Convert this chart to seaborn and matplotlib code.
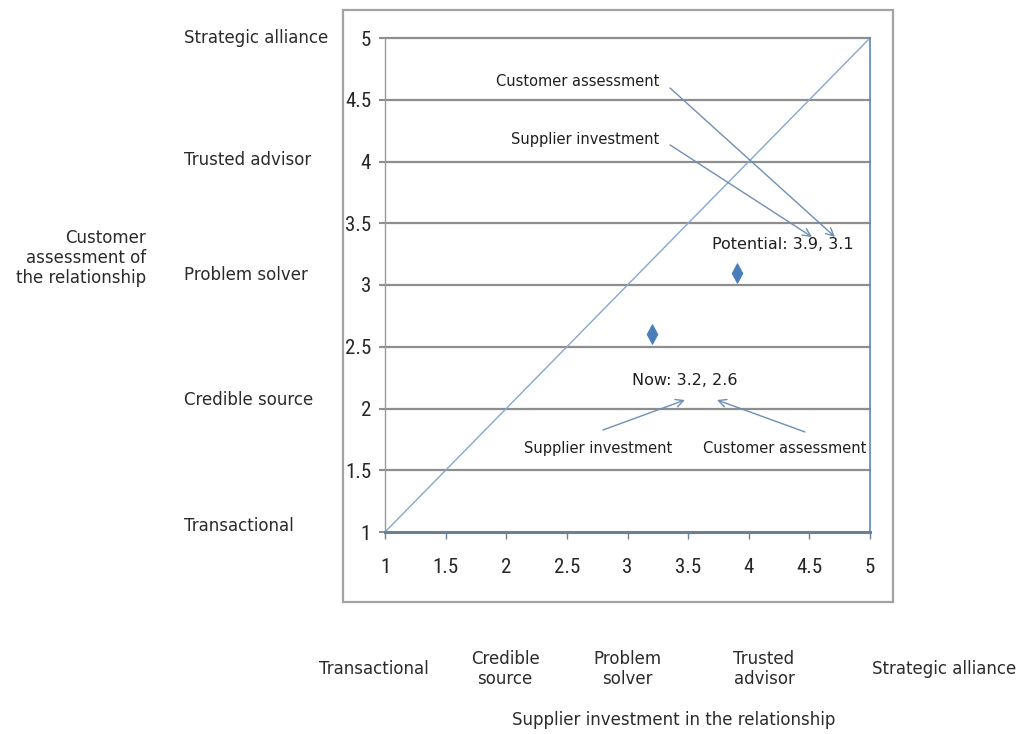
import matplotlib
matplotlib.use("Agg")
import matplotlib.pyplot as plt
from matplotlib.patches import Rectangle
from matplotlib import font_manager
from matplotlib.markers import MarkerStyle
from matplotlib.transforms import Affine2D
import pandas as pd
import seaborn as sns

# Relationship positions (supplier investment, customer assessment)
point_names = ["Now", "Potential"]
supplier_investment = [3.2, 3.9]
customer_assessment = [2.6, 3.1]

# Line of balanced relationships
diagonal_x = [1, 5]
diagonal_y = [1, 5]

tick_values = [1, 1.5, 2, 2.5, 3, 3.5, 4, 4.5, 5]
stage_names = ["Transactional", "Credible source", "Problem solver",
               "Trusted advisor", "Strategic alliance"]
stage_names_bottom = ["Transactional", "Credible\nsource", "Problem\nsolver",
                      "Trusted\nadvisor", "Strategic alliance"]

points = pd.DataFrame({"stage": point_names,
                       "supplier": supplier_investment,
                       "customer": customer_assessment})
diag = pd.DataFrame({"x": diagonal_x, "y": diagonal_y})

sns.set_theme(style="white")
plt.rcParams["font.family"] = ["DejaVu Sans"]

# Pick a narrow face for the axis numbers when one is available
names = {f.name for f in font_manager.fontManager.ttflist}
narrow = None
for cand in ["Liberation Sans Narrow", "DejaVu Sans Condensed", "Roboto Condensed",
             "Open Sans Condensed"]:
    if cand in names:
        narrow = cand
        break

W, H = 1024, 734
fig = plt.figure(figsize=(W / 100, H / 100), dpi=100)
fig.patch.set_facecolor("white")


def fx(px):
    return px / W


def fy(py):
    return 1 - py / H


# Chart frame
fig.patches.append(Rectangle((fx(343), fy(602)), fx(893) - fx(343), fy(10) - fy(602),
                             transform=fig.transFigure, fill=False,
                             edgecolor="#a3a3a3", linewidth=1.6, zorder=0))

ax = fig.add_axes([fx(385), fy(532), fx(870) - fx(385), fy(38) - fy(532)])
ax.set_facecolor("white")

grid_color = "#8e8e8e"
blue = "#4A7EBB"
line_blue = "#86a8cf"

for v in tick_values[1:]:
    ax.axhline(v, color=grid_color, linewidth=1.6, zorder=1, clip_on=False)

sns.lineplot(data=diag, x="x", y="y", ax=ax, color=line_blue, linewidth=1.0,
             zorder=2, clip_on=False)
sns.scatterplot(data=points, x="supplier", y="customer", ax=ax, marker="D",
                s=70, color=blue, edgecolor=blue, zorder=4, legend=False)
# narrow the diamond markers
m = MarkerStyle("D")
ax.collections[-1].set_paths([m.get_path().transformed(
    m.get_transform() + Affine2D().scale(0.65, 1.2))])

ax.set_xlim(1, 5)
ax.set_ylim(1, 5)
ax.set_xticks(tick_values)
ax.set_yticks(tick_values)
fmt = lambda v: f"{v:g}"
if narrow:
    tick_font = dict(family=[narrow, "DejaVu Sans"], size=15, color="#262626")
else:
    tick_font = dict(family=["DejaVu Sans"], stretch="condensed", size=13,
                     color="#262626")
ax.set_xticklabels([fmt(v) for v in tick_values], **tick_font)
ax.set_yticklabels([fmt(v) for v in tick_values], **tick_font)
ax.tick_params(axis="x", direction="out", length=5, width=1, color="#6d7f93", pad=14,
               bottom=True)
ax.tick_params(axis="y", direction="out", length=4, width=1.5, color=grid_color, pad=6,
               left=True)
ax.set_xlabel("")
ax.set_ylabel("")

ax.spines["top"].set_visible(False)
ax.spines["left"].set_color("#9a9a9a")
ax.spines["left"].set_linewidth(1.0)
ax.spines["right"].set_color("#5b86b5")
ax.spines["right"].set_linewidth(1.2)
ax.spines["bottom"].set_color("#6d7f93")
ax.spines["bottom"].set_linewidth(2.2)

note_font = dict(family=["DejaVu Sans"], size=10.5, color="#1f1f1f")
arrow = dict(arrowstyle="->", color="#6e8fb5", lw=1.0, mutation_scale=14,
             shrinkA=0, shrinkB=0)

# Point captions built from the data
now_label = f"{point_names[0]}: {supplier_investment[0]:.1f}, {customer_assessment[0]:.1f}"
pot_label = f"{point_names[1]}: {supplier_investment[1]:.1f}, {customer_assessment[1]:.1f}"
ax.text(3.474, 2.223, now_label, ha="center", va="center", fontsize=11.5,
        color="#1f1f1f")
ax.text(4.28, 3.33, pot_label, ha="center", va="center", fontsize=11.5,
        color="#1f1f1f")

# Callouts for the potential position
ax.text(2.592, 4.644, "Customer assessment", ha="center", va="center", **note_font)
ax.annotate("", xy=(4.711, 3.389), xytext=(3.351, 4.595), arrowprops=arrow)
ax.text(2.649, 4.182, "Supplier investment", ha="center", va="center", **note_font)
ax.annotate("", xy=(4.522, 3.389), xytext=(3.351, 4.134), arrowprops=arrow)

# Callouts for the current position
ax.text(2.756, 1.68, "Supplier investment", ha="center", va="center", **note_font)
ax.annotate("", xy=(3.474, 2.069), xytext=(2.798, 1.826), arrowprops=arrow)
ax.text(4.299, 1.68, "Customer assessment", ha="center", va="center", **note_font)
ax.annotate("", xy=(3.738, 2.069), xytext=(4.464, 1.81), arrowprops=arrow)

# Stage names along the vertical axis
outer_font = dict(family=["DejaVu Sans"], size=12, color="#2b2b2b")
left_y = [526, 400, 275, 160, 38]
for name, py in zip(stage_names, left_y):
    fig.text(fx(184), fy(py), name, ha="left", va="center", **outer_font)
fig.text(fx(146), fy(258), "Customer\nassessment of\nthe relationship",
         ha="right", va="center", linespacing=1.15, **outer_font)

# Stage names along the horizontal axis
bottom_x = [374, 505, 627, 764, 944]
for name, px in zip(stage_names_bottom, bottom_x):
    fig.text(fx(px), fy(669), name, ha="center", va="center",
             linespacing=1.2, **outer_font)
fig.text(fx(674), fy(720), "Supplier investment in the relationship",
         ha="center", va="center", **outer_font)

fig.savefig("out.png", dpi=100, facecolor="white")
